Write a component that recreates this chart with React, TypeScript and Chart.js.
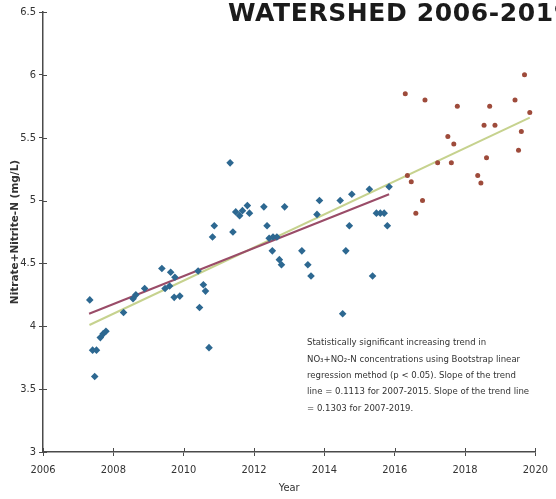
import React, { useEffect, useRef } from "react";
import { Chart, registerables } from "chart.js";

Chart.register(...registerables);

// 2007-2015 samples (blue diamonds)
const blueYears = [
  2007.33, 2007.41, 2007.52, 2007.47, 2007.63, 2007.71, 2007.79, 2008.29, 2008.56, 2008.64,
  2008.89, 2009.38, 2009.63, 2009.47, 2009.6, 2009.75, 2009.73, 2009.89, 2010.41, 2010.56,
  2010.62, 2010.45, 2010.72, 2010.82, 2010.87, 2011.4, 2011.32, 2011.48, 2011.59, 2011.67,
  2011.81, 2011.87, 2012.28, 2012.87, 2012.37, 2012.43, 2012.54, 2012.65, 2012.52, 2012.72,
  2012.78, 2013.36, 2013.53, 2013.62, 2013.79, 2013.86, 2014.45, 2014.78, 2015.28, 2015.84,
  2015.48, 2015.59, 2015.7, 2015.79, 2014.71, 2014.61, 2015.37, 2014.52,
];
const blueValues = [
  4.21, 3.81, 3.81, 3.6, 3.91, 3.94, 3.96, 4.11, 4.22, 4.25,
  4.3, 4.46, 4.43, 4.3, 4.32, 4.39, 4.23, 4.24, 4.44, 4.33,
  4.28, 4.15, 3.83, 4.71, 4.8, 4.75, 5.3, 4.91, 4.88, 4.92,
  4.96, 4.9, 4.95, 4.95, 4.8, 4.7, 4.71, 4.71, 4.6, 4.53,
  4.49, 4.6, 4.49, 4.4, 4.89, 5.0, 5.0, 5.05, 5.09, 5.11,
  4.9, 4.9, 4.9, 4.8, 4.8, 4.6, 4.4, 4.1,
];

// 2016-2019 samples (red dots)
const redYears = [
  2016.3, 2016.86, 2017.78, 2018.7, 2019.42, 2019.69, 2019.84, 2018.54, 2018.85, 2017.51,
  2017.68, 2019.6, 2019.52, 2018.61, 2017.22, 2017.61, 2016.36, 2016.47, 2018.36, 2018.45,
  2016.79, 2016.6,
];
const redValues = [
  5.85, 5.8, 5.75, 5.75, 5.8, 6.0, 5.7, 5.6, 5.6, 5.51,
  5.45, 5.55, 5.4, 5.34, 5.3, 5.3, 5.2, 5.15, 5.2, 5.14,
  5.0, 4.9,
];

// trend lines
const trend0715Years = [2007.31, 2015.84];
const trend0715Values = [4.1, 5.05];
const trend0719Years = [2007.32, 2019.84];
const trend0719Values = [4.01, 5.66];

const xTicks = [2006, 2008, 2010, 2012, 2014, 2016, 2018, 2020];
const xTickLabels = ["2006", "2008", "2010", "2012", "2014", "2016", "2018", "2020"];
const yTicks = [3, 3.5, 4, 4.5, 5, 5.5, 6, 6.5];
const yTickLabels = ["3", "3.5", "4", "4.5", "5", "5.5", "6", "6.5"];

const titleText = "WATERSHED 2006-2019";
const xAxisTitle = "Year";
const yAxisTitle = "Nitrate+Nitrite-N (mg/L)";
const noteLines = [
  "Statistically significant increasing trend in",
  "NO\u2083+NO\u2082-N concentrations using Bootstrap linear",
  "regression method (p < 0.05). Slope of the trend",
  "line = 0.1113 for 2007-2015. Slope of the trend line",
  "= 0.1303 for 2007-2019.",
];

const AXIS = "#4a4a4a";
const NARROW = "'Liberation Sans Narrow', 'DejaVu Sans Condensed', 'Liberation Sans', sans-serif";

const overlay = {
  id: "overlay",
  afterDraw(chart: any) {
    const ctx = chart.ctx as CanvasRenderingContext2D;
    const { left, bottom } = chart.chartArea;
    const xs = chart.scales.x;
    const ys = chart.scales.y;
    ctx.save();
    ctx.strokeStyle = AXIS;
    ctx.lineWidth = 1;
    ctx.beginPath();
    xTicks.forEach((v) => {
      const px = Math.round(xs.getPixelForValue(v)) + 0.5;
      ctx.moveTo(px, bottom);
      ctx.lineTo(px, bottom - 4);
    });
    yTicks.forEach((v) => {
      const py = Math.round(ys.getPixelForValue(v)) + 0.5;
      ctx.moveTo(left, py);
      ctx.lineTo(left + 4, py);
    });
    ctx.stroke();

    ctx.fillStyle = "#1b1b1b";
    ctx.font = "bold 25px 'DejaVu Sans', sans-serif";
    (ctx as any).letterSpacing = "0.6px";
    ctx.textBaseline = "alphabetic";
    ctx.textAlign = "left";
    ctx.fillText(titleText, 228, 21);
    (ctx as any).letterSpacing = "0px";

    ctx.fillStyle = "#333";
    ctx.font = "9.5px " + NARROW;
    ctx.textBaseline = "middle";
    noteLines.forEach((t, i) => ctx.fillText(t, 307, 343 + i * 16.3));
    ctx.restore();
  },
};

export default function App() {
  const ref = useRef<HTMLCanvasElement | null>(null);

  useEffect(() => {
    if (!ref.current) return;
    const toPts = (xs: number[], ys: number[]) => xs.map((x, i) => ({ x, y: ys[i] }));
    const chart = new Chart(ref.current, {
      type: "scatter",
      data: {
        datasets: [
          {
            label: "2007-2015",
            data: toPts(blueYears, blueValues),
            pointStyle: "rectRot",
            pointRadius: 3.8,
            backgroundColor: "#2d6891",
            borderWidth: 0,
          },
          {
            label: "2016-2019",
            data: toPts(redYears, redValues),
            pointStyle: "circle",
            pointRadius: 2.5,
            backgroundColor: "#9e4b3b",
            borderWidth: 0,
          },
          {
            label: "Trend 2007-2015",
            data: toPts(trend0715Years, trend0715Values),
            showLine: true,
            borderColor: "#9a4c68",
            borderWidth: 2,
            pointRadius: 0,
          },
          {
            label: "Trend 2007-2019",
            data: toPts(trend0719Years, trend0719Values),
            showLine: true,
            borderColor: "#c6d28e",
            borderWidth: 2,
            pointRadius: 0,
          },
        ],
      },
      options: {
        responsive: false,
        animation: false,
        devicePixelRatio: 1,
        layout: { padding: { left: 0, right: 11, top: 12, bottom: 0 } },
        plugins: { legend: { display: false }, tooltip: { enabled: false } },
        scales: {
          x: {
            type: "linear",
            min: 2006,
            max: 2020,
            afterBuildTicks: (s: any) => {
              s.ticks = xTicks.map((v) => ({ value: v }));
            },
            afterFit: (s: any) => {
              s.height = 47;
            },
            ticks: {
              padding: 8,
              color: "#333",
              font: { family: NARROW, size: 11 },
              callback: (v: any) => xTickLabels[xTicks.indexOf(Number(v))] ?? "",
              maxRotation: 0,
              autoSkip: false,
            },
            grid: { display: true, drawOnChartArea: false, drawTicks: true, tickLength: 4, color: AXIS },
            border: { display: true, color: AXIS, width: 1.5 },
            title: {
              display: true,
              text: xAxisTitle,
              color: "#333",
              font: { family: NARROW, size: 11 },
              padding: { top: 2, bottom: 4 },
            },
          },
          y: {
            type: "linear",
            min: 3,
            max: 6.5,
            afterBuildTicks: (s: any) => {
              s.ticks = yTicks.map((v) => ({ value: v }));
            },
            afterFit: (s: any) => {
              s.width = 43;
            },
            ticks: {
              padding: 3,
              color: "#333",
              font: { family: NARROW, size: 11 },
              callback: (v: any) => yTickLabels[yTicks.indexOf(Number(v))] ?? "",
              autoSkip: false,
            },
            grid: { display: true, drawOnChartArea: false, drawTicks: true, tickLength: 4, color: AXIS },
            border: { display: true, color: AXIS, width: 1.5 },
            title: {
              display: true,
              text: yAxisTitle,
              color: "#333",
              font: { family: "'DejaVu Sans', sans-serif", size: 10.5, weight: "bold" },
              padding: { top: 9, bottom: 4 },
            },
          },
        },
      },
      plugins: [overlay],
    });
    return () => chart.destroy();
  }, []);

  return (
    <div style={{ position: "fixed", left: 0, top: 0, width: 556, height: 499, background: "#fff" }}>
      <canvas ref={ref} width={556} height={499} />
    </div>
  );
}
